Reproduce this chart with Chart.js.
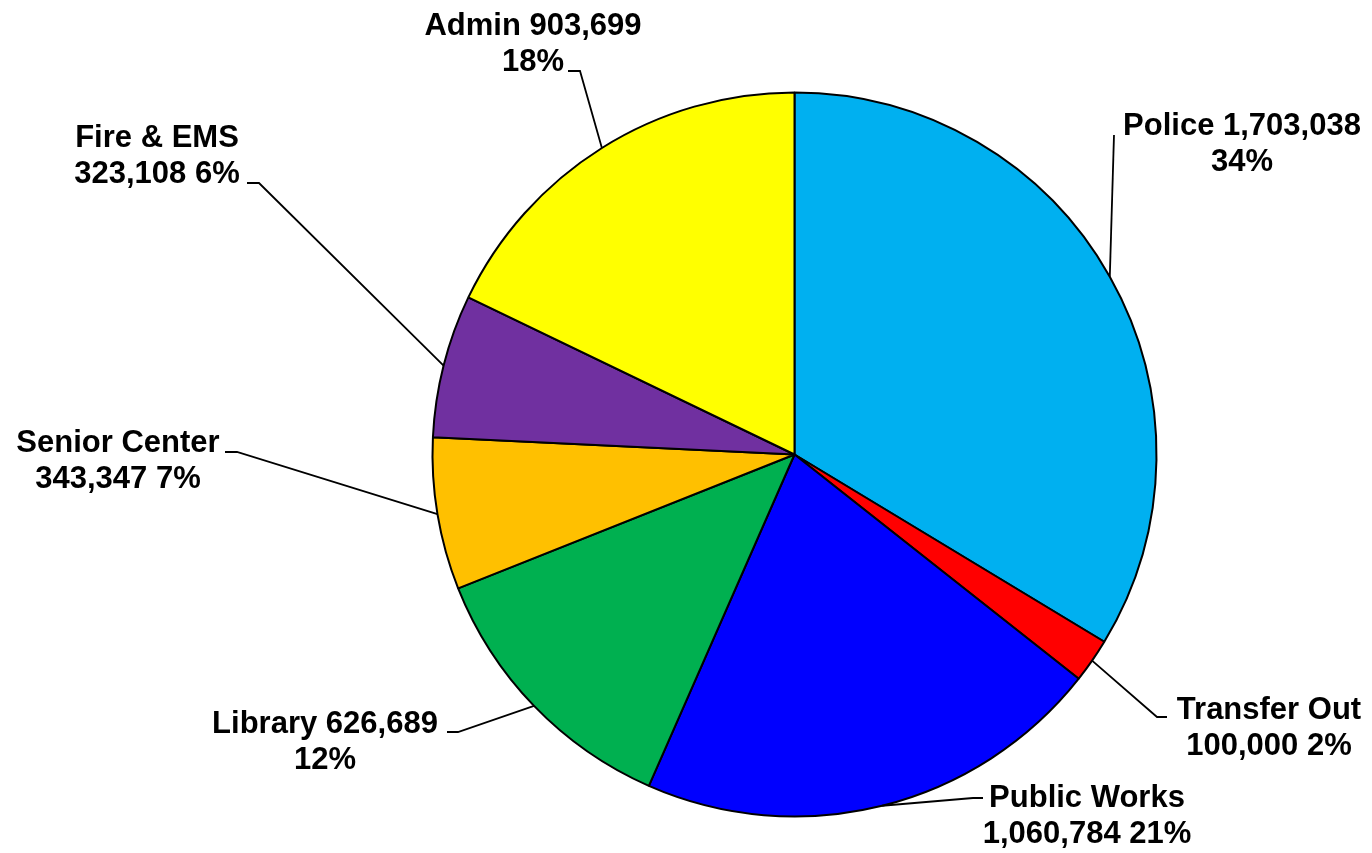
<!DOCTYPE html>
<html>
<head>
<meta charset="utf-8">
<script src="https://cdn.jsdelivr.net/npm/chart.js@4/dist/chart.umd.min.js"></script>
<style>
  html, body { margin: 0; padding: 0; background: #ffffff; }
  #wrap { position: relative; width: 1372px; height: 853px; }
</style>
</head>
<body>
<div id="wrap"><canvas id="c"></canvas></div>
<script>
// ---- data ----
const categories = ["Police", "Transfer Out", "Public Works", "Library", "Senior Center", "Fire & EMS", "Admin"];
const values = [1703038, 100000, 1060784, 626689, 343347, 323108, 903699];
const colors = ["#00B0F0", "#FF0000", "#0000FF", "#00B050", "#FFC000", "#7030A0", "#FFFF00"];
// how each label breaks into lines: "nv|p" = name value / pct, "n|vp" = name / value pct
const labelBreaks = ["nv|p", "n|vp", "n|vp", "nv|p", "n|vp", "n|vp", "nv|p"];

// ---- label layout (positions only) ----
const labelLayout = [
  { cx: 1242, y: 135, leader: [[1114, 135]] },
  { cx: 1269, y: 719, leader: [[1167, 717], [1157, 717]] },
  { cx: 1087, y: 807, leader: [[983, 798], [973, 798]] },
  { cx: 325,  y: 733, leader: [[447, 732], [458, 732]] },
  { cx: 118,  y: 452, leader: [[225, 452], [237, 452]] },
  { cx: 157,  y: 147, leader: [[247, 183], [259, 183]] },
  { cx: 533,  y: 35,  leader: [[568, 71], [580, 71]] }
];

const total = values.reduce((a, b) => a + b, 0);
function labelLines(i) {
  const name = categories[i];
  const v = values[i].toLocaleString('en-US');
  const p = Math.round(values[i] / total * 100) + '%';
  return labelBreaks[i] === "nv|p" ? [name + ' ' + v, p] : [name, v + ' ' + p];
}

const leaderLabels = {
  id: 'leaderLabels',
  afterDatasetsDraw(chart) {
    const ctx = chart.ctx;
    const meta = chart.getDatasetMeta(0);
    ctx.save();
    ctx.strokeStyle = '#000';
    ctx.lineWidth = 1.8;
    meta.data.forEach((arc, i) => {
      const { x, y, startAngle, endAngle, outerRadius } = arc.getProps(['x', 'y', 'startAngle', 'endAngle', 'outerRadius'], true);
      const mid = (startAngle + endAngle) / 2;
      const ax = x + Math.cos(mid) * outerRadius;
      const ay = y + Math.sin(mid) * outerRadius;
      const L = labelLayout[i];
      ctx.beginPath();
      ctx.moveTo(L.leader[0][0], L.leader[0][1]);
      for (let k = 1; k < L.leader.length; k++) ctx.lineTo(L.leader[k][0], L.leader[k][1]);
      ctx.lineTo(ax, ay);
      ctx.stroke();
      ctx.fillStyle = '#000';
      ctx.font = 'bold 31px "Liberation Sans", Arial, sans-serif';
      ctx.textAlign = 'center';
      ctx.textBaseline = 'alphabetic';
      labelLines(i).forEach((t, j) => ctx.fillText(t, L.cx, L.y + j * 36));
    });
    ctx.restore();
  }
};

new Chart(document.getElementById('c'), {
  type: 'pie',
  data: {
    labels: categories,
    datasets: [{
      data: values,
      backgroundColor: colors,
      borderColor: '#000000',
      borderWidth: 2
    }]
  },
  options: {
    responsive: true,
    maintainAspectRatio: false,
    animation: false,
    radius: 362,
    layout: { padding: { top: 92, bottom: 36, left: 300, right: 83 } },
    plugins: {
      legend: { display: false },
      tooltip: { enabled: false }
    }
  },
  plugins: [leaderLabels]
});
</script>
</body>
</html>
